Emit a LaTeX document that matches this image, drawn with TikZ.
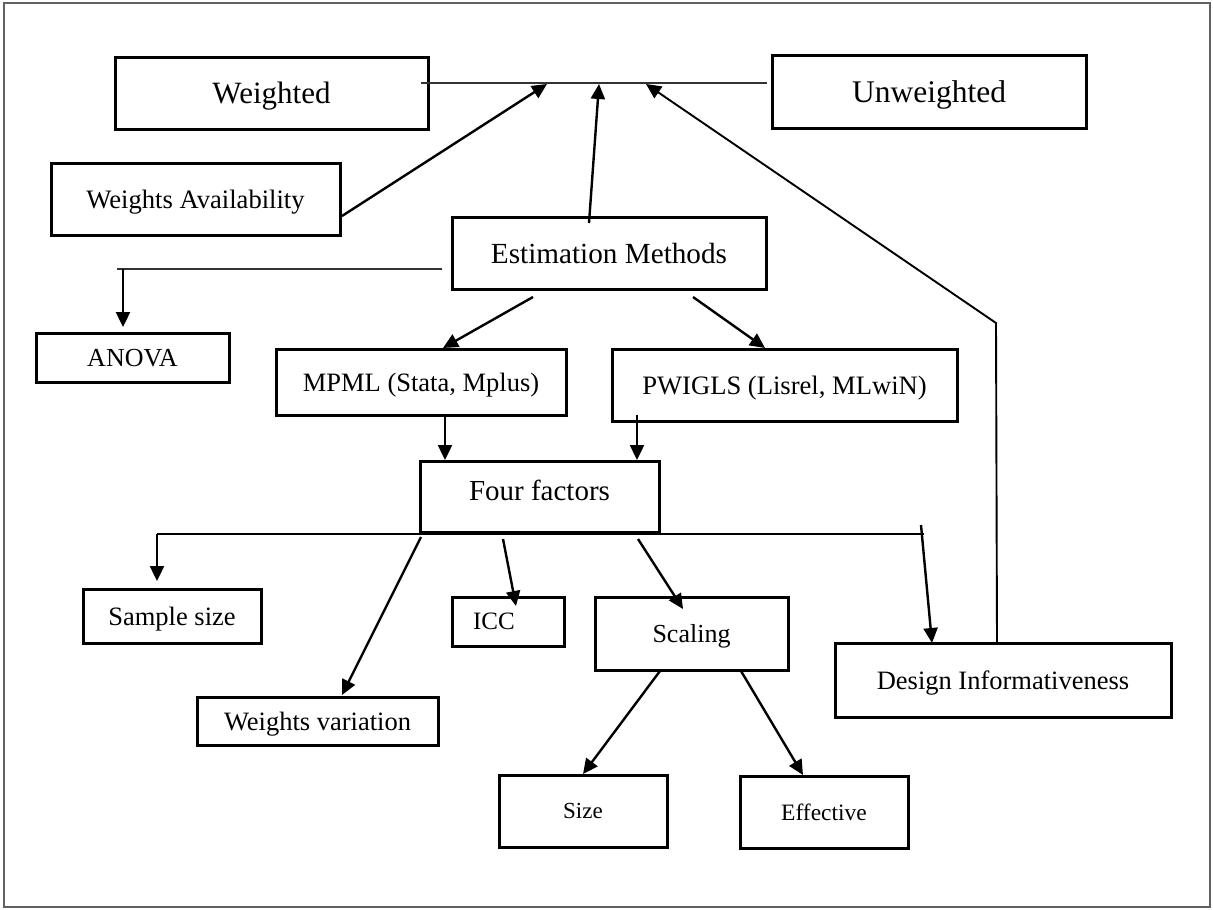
\documentclass[tikz,border=0pt]{standalone}
\usepackage{fontspec}
\setmainfont{Liberation Serif}
\usetikzlibrary{arrows.meta,calc}
\newcommand{\fsz}[1]{\fontsize{#1}{#1}\selectfont}
\tikzset{
  box/.style={draw=black, line width=3pt, inner sep=0pt, outer sep=0pt, align=center, text depth=0pt},
  conn/.style={line width=2.4pt, -{Triangle[length=15pt,width=14pt]}},
  hair/.style={line width=1.5pt, draw=black!80},
  mid/.style={line width=2pt}
}
\begin{document}
\begin{tikzpicture}[x=1pt,y=-1pt]
\useasboundingbox (0,0) rectangle (1213,910);
\fill[white] (0,0) rectangle (1213,910);
\draw[line width=2pt, draw=black!62] (4,3) rectangle (1210,907);

% boxes
\node[box, minimum width=313pt, minimum height=72pt] (W) at (271.5,93) {\fsz{31}Weighted};
\node[box, minimum width=314pt, minimum height=73pt] (U) at (929,91.5) {\fsz{31.5}Unweighted};
\node[box, minimum width=289pt, minimum height=72pt] (WA) at (195.5,199) {\fsz{26.6}Weights Availability};
\node[box, minimum width=314pt, minimum height=72pt] (EM) at (609,253) {\fsz{29.2}Estimation Methods};
\node[box, minimum width=193pt, minimum height=49pt] (ANOVA) at (132.5,357.5) {\fsz{26}ANOVA};
\node[box, minimum width=290pt, minimum height=66pt] (MPML) at (421,382) {\fsz{26.5}MPML (Stata, Mplus)};
\node[box, minimum width=345pt, minimum height=72pt] (PW) at (784.5,385) {\fsz{26.6}PWIGLS (Lisrel, MLwiN)};
\node[box, minimum width=239pt, minimum height=71pt] (FF) at (539.5,496.5) {\fsz{29}\raisebox{12pt}{Four factors}};
\node[box, minimum width=178pt, minimum height=54pt] (SS) at (172,616) {\fsz{26.5}Sample size};
\node[box, minimum width=241pt, minimum height=48pt] (WV) at (317.5,721) {\fsz{26.5}Weights variation};
\node[box, minimum width=112pt, minimum height=49pt] (ICC) at (508,621.5) {\fsz{25}ICC\hspace{28pt}};
\node[box, minimum width=193pt, minimum height=73pt] (SC) at (691.5,633.5) {\fsz{26}Scaling};
\node[box, minimum width=168pt, minimum height=72pt] (SZ) at (583,811) {\fsz{23}Size};
\node[box, minimum width=168pt, minimum height=72pt] (EF) at (824,812) {\fsz{23.5}Effective};
\node[box, minimum width=336pt, minimum height=74pt] (DI) at (1003,680) {\fsz{26.5}Design Informativeness};

% junction coordinates
\coordinate (tl) at (421,83);
\coordinate (tr) at (767,83);
\coordinate (t1) at (547,84);
\coordinate (t2) at (599,84);
\coordinate (t3) at (646,84);
\coordinate (bend) at (996,323);
\coordinate (al) at (117,269);
\coordinate (aj) at (123,269);
\coordinate (fl) at (157,534);
\coordinate (fr) at (924,534);

% top line and arrows into it
\draw[hair] (tl) -- (tr);
\draw[conn] ($(WA.east)+(2,17)$) -- (t1);
\draw[conn] ($(EM.north)+(-20,6)$) -- (t2);
\draw[line width=1.9pt, -{Triangle[length=15pt,width=14pt]}] ($(DI.north)+(-6,0)$) -- (bend) -- (t3);

% ANOVA branch
\draw[hair] ($(EM.west)+(-10,16)$) -- (al);
\draw[conn] (aj) -- ($(ANOVA.north)+(-9.5,-6)$);

% estimation methods to MPML / PWIGLS
\draw[conn] ($(EM.south)+(-76,8)$) -- ($(MPML.north)+(22,-1)$);
\draw[conn] ($(EM.south)+(84,8)$) -- ($(PW.north)+(-19.5,-1)$);

% into four factors
\draw[conn] ($(MPML.south)+(24,0)$) -- ($(FF.north)+(-94.5,-1)$);
\draw[conn] ($(PW.south)+(-147.5,-6)$) -- ($(FF.north)+(97.5,-1)$);

% four factors branches
\draw[mid] (fl) -- (fr);
\draw[conn] (fl) -- ($(SS.north)+(-15,-8)$);
\draw[conn] ($(FF.south)+(381.5,-7)$) -- ($(DI.north)+(-71,0)$);
\draw[conn] ($(FF.south west)+(1,5)$) -- ($(WV.north)+(24.5,-2)$);
\draw[conn] ($(FF.south)+(-36.5,7)$) -- ($(ICC.north)+(8,9)$);
\draw[conn] ($(FF.south)+(98.5,7)$) -- ($(SC.north)+(-8.5,12)$);

% scaling branches
\draw[conn] ($(SC.south)+(-31.5,1)$) -- ($(SZ.north)+(0,-1)$);
\draw[conn] ($(SC.south)+(49.5,1)$) -- ($(EF.north)+(-21,-1)$);
\end{tikzpicture}
\end{document}
